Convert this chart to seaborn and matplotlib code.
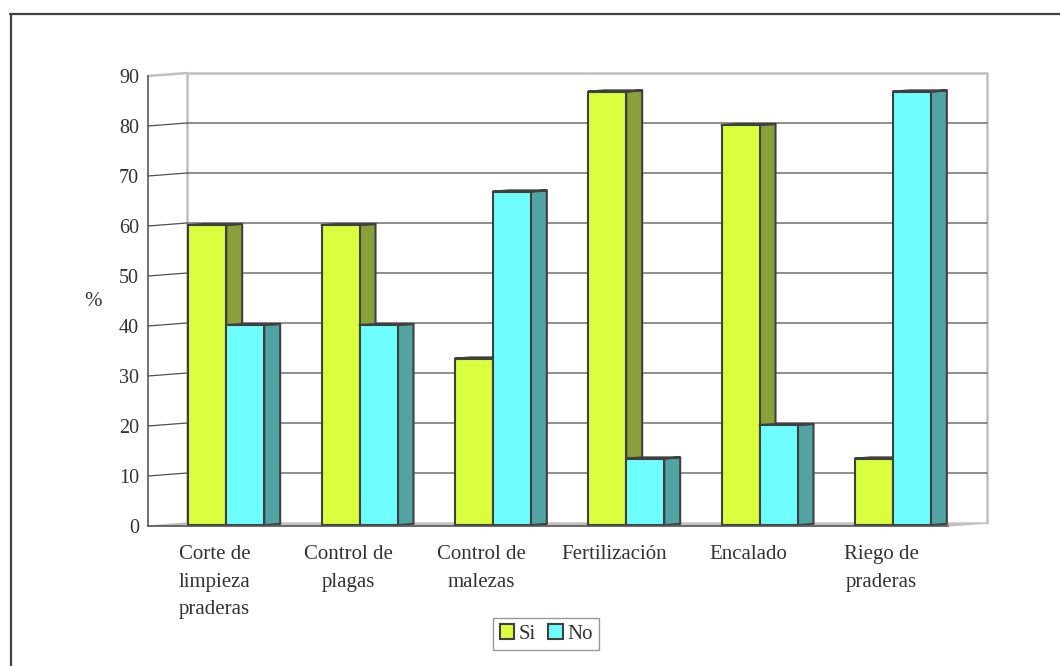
import numpy as np
import pandas as pd
import seaborn as sns
import matplotlib.pyplot as plt
import matplotlib.transforms as mtrans
from matplotlib.patches import Polygon, Patch
from matplotlib.lines import Line2D

# ---- data ----
categorias = ["Corte de\nlimpieza\npraderas", "Control de\nplagas", "Control de\nmalezas",
              "Fertilización", "Encalado", "Riego de\npraderas"]
series = ["Si", "No"]
si = [60, 60, 33.3, 86.7, 80, 13.3]
no = [40, 40, 66.7, 13.3, 20, 86.7]
yticks = list(range(0, 100, 10))

# ---- style ----
front_col = {"Si": "#D9FF3F", "No": "#6FFFFF"}
side_col = {"Si": "#8AA03A", "No": "#52A3A3"}
edge = "#404040"
text_col = "#333333"
grid_col = "#505050"
wall_col = "#C0C0C0"

sns.set_style("white")
plt.rcParams["font.family"] = ["Liberation Serif", "DejaVu Serif"]
plt.rcParams["font.size"] = 15

W, H, DPI = 1060, 666, 100
fig = plt.figure(figsize=(W / DPI, H / DPI), dpi=DPI)
ax = fig.add_axes([148 / W, (H - 526) / H, 800 / W, 450 / H])
ax.set_xlim(-0.5, 5.5)
ax.set_ylim(0, 90)

# pixel offsets for the depth planes (x right, y up)
FX, FY = 11.6, 0.9   # bar front faces
BX, BY = 27.5, 2.1   # bar back faces
WX, WY = 39.0, 3.0   # back wall


def shifted(x, y, dx, dy):
    pts = ax.transData.transform(np.column_stack([np.atleast_1d(x), np.atleast_1d(y)]).astype(float))
    pts = pts + np.array([dx, dy])
    return ax.transData.inverted().transform(pts)


x0, x1 = -0.5, 5.5

# floor
floor = np.vstack([shifted([x0, x1], [0, 0], 0, 0), shifted([x1, x0], [0, 0], WX, WY)])
ax.add_patch(Polygon(floor, closed=True, facecolor=wall_col, edgecolor=wall_col, lw=1,
                     zorder=0.5, clip_on=False))

# back wall outline
bl = shifted([x0, x0, x1, x1], [0, 90, 90, 0], WX, WY)
ax.add_line(Line2D(bl[:, 0], bl[:, 1], color=wall_col, lw=1.8, zorder=0.6, clip_on=False))
# top edge of left wall
tl = np.vstack([shifted(x0, 90, 0, 0), shifted(x0, 90, WX, WY)])
ax.add_line(Line2D(tl[:, 0], tl[:, 1], color=wall_col, lw=1.8, zorder=0.6, clip_on=False))

# gridlines on left and back walls
for v in yticks[1:-1]:
    pts = np.vstack([shifted(x0, v, 0, 0), shifted([x0, x1], [v, v], WX, WY)])
    ax.add_line(Line2D(pts[:, 0], pts[:, 1], color=grid_col, lw=0.9, zorder=1, clip_on=False))

# bars
df = pd.DataFrame({
    "categoria": categorias * 2,
    "serie": [series[0]] * len(si) + [series[1]] * len(no),
    "valor": si + no,
})
sns.barplot(data=df, x="categoria", y="valor", hue="serie", hue_order=series,
            palette=front_col, saturation=1, width=0.57, gap=0,
            edgecolor=edge, linewidth=1.5, legend=False, ax=ax)
ax.set_xlim(-0.5, 5.5)
ax.set_ylim(0, 90)

front_off = ax.transData + mtrans.ScaledTranslation(FX / DPI, FY / DPI, fig.dpi_scale_trans)
for k, (name, cont) in enumerate(zip(series, ax.containers)):
    base_z = 2 + 2 * k
    for p in cont.patches:
        bx, bw, bh = p.get_x(), p.get_width(), p.get_height()
        p.set_transform(front_off)
        p.set_zorder(base_z + 0.5)
        p.set_clip_on(False)
        # side face
        side = np.vstack([shifted([bx + bw, bx + bw], [0, bh], FX, FY),
                          shifted([bx + bw, bx + bw], [bh, 0], BX, BY)])
        ax.add_patch(Polygon(side, closed=True, facecolor=side_col[name], edgecolor=edge,
                             lw=1.5, zorder=base_z, clip_on=False, joinstyle="round"))
        # top face
        top = np.vstack([shifted([bx, bx + bw], [bh, bh], FX, FY),
                         shifted([bx + bw, bx], [bh, bh], BX, BY)])
        ax.add_patch(Polygon(top, closed=True, facecolor=front_col[name], edgecolor=edge,
                             lw=1.5, zorder=base_z + 0.1, clip_on=False, joinstyle="round"))

# axes
for s in ["top", "right"]:
    ax.spines[s].set_visible(False)
for s in ["left", "bottom"]:
    ax.spines[s].set_color("#595959")
    ax.spines[s].set_linewidth(1.2)
    ax.spines[s].set_zorder(10)

ax.set_yticks(yticks)
ax.set_yticklabels([str(v) for v in yticks])
ax.tick_params(axis="y", direction="out", length=4.5, width=1, color="#595959",
               pad=2, labelsize=14.5, labelcolor=text_col)

ax.set_xticks(range(len(categorias)))
ax.set_xticklabels(categorias, linespacing=1.6)
ax.tick_params(axis="x", which="major", length=0, pad=14, labelsize=15, labelcolor=text_col)
ax.set_xticks(np.arange(-0.5, len(categorias), 1), minor=True)
ax.tick_params(axis="x", which="minor", direction="out", length=5, width=1, color="#595959")
ax.set_xlabel("")

ax.set_ylabel("%", rotation=0, fontsize=15, color=text_col, va="center", ha="center")
ax.yaxis.set_label_coords(-55 / 800, (526 - 302) / 450)
ax.patch.set_alpha(0)

# legend
handles = [Patch(facecolor=front_col[s], edgecolor=edge, lw=1.5, label=s) for s in series]
leg = fig.legend(handles=handles, loc="center", bbox_to_anchor=(546 / W, 1 - 634 / H),
                 ncol=2, frameon=True, fancybox=False, edgecolor="#808080",
                 handlelength=0.7, handleheight=0.7, handletextpad=0.2,
                 columnspacing=0.6, borderpad=0.3, fontsize=15, labelcolor=text_col)
leg.get_frame().set_linewidth(1.0)

# chart-area border (top and left)
fig.add_artist(Line2D([10 / W, 1], [1 - 13.5 / H] * 2, transform=fig.transFigure,
                      color="#404040", lw=1.6))
fig.add_artist(Line2D([10.5 / W] * 2, [0, 1 - 13.5 / H], transform=fig.transFigure,
                      color="#404040", lw=1.6))

fig.savefig("out.png", dpi=DPI, facecolor="white")
